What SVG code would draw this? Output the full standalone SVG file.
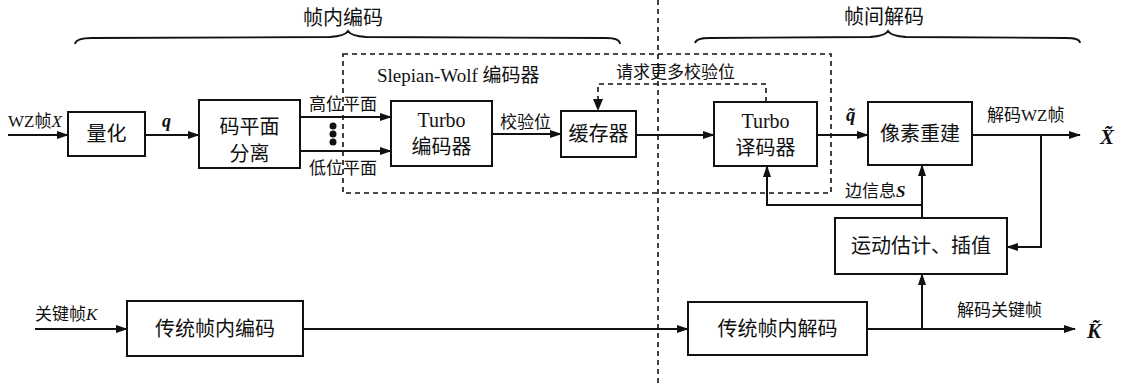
<svg xmlns="http://www.w3.org/2000/svg" width="1127" height="384" viewBox="0 0 1127 384">
<style>
text{font-family:"Liberation Serif","Noto Sans CJK SC",serif;fill:#111}
.box{fill:#fff;stroke:#111;stroke-width:2}
.bt{font-size:20px;text-anchor:middle;dominant-baseline:central}
.lb{font-size:17px}
.tt{font-size:20px;text-anchor:middle}
.ln{fill:none;stroke:#111;stroke-width:2}
.ar{fill:none;stroke:#111;stroke-width:2;marker-end:url(#ah)}
.da{fill:none;stroke:#111;stroke-width:1.6;stroke-dasharray:5 4}
.br{fill:none;stroke:#111;stroke-width:1.8}
.bi{font-weight:bold;font-style:italic}
.it{font-style:italic}
</style>
<defs>
<marker id="ah" markerWidth="12" markerHeight="8" refX="11" refY="4" orient="auto" markerUnits="userSpaceOnUse">
<path d="M0,0 L12,4 L0,8 Z" fill="#111"/>
</marker>
</defs>

<!-- braces and titles -->
<g id="titles">
<path class="br" d="M75,44 Q76,38 92,38 L330,37 Q345,36 348,31 Q351,36 366,37 L606,38 Q620,38 620,44"/>
<text class="tt" x="343" y="25">帧内编码</text>
<path class="br" d="M695,43 Q696,38 710,38 L870,37 Q885,36 888,31 Q891,36 906,37 L1066,38 Q1080,38 1080,43"/>
<text class="tt" x="884" y="24">帧间解码</text>
</g>

<!-- divider and Slepian-Wolf dashed region -->
<g id="regions">
<line class="da" x1="658" y1="0" x2="658" y2="384"/>
<rect class="da" x="343" y="54" width="488" height="139"/>
<text x="377" y="82" style="font-size:19px">Slepian-Wolf 编码器</text>
</g>

<g id="connectors">
<path class="ar" d="M8,135 L68,135"/>
<path class="ar" d="M145,135 L199,135"/>
<path class="ar" d="M300,117 L391,117"/>
<path class="ar" d="M300,151 L391,151"/>
<path class="ar" d="M492,134 L561,134"/>
<path class="da" d="M766,102 L766,84 L598,84 L598,101"/>
<path d="M593,99 L598,111 L603,99 Z" fill="#111"/>
<path class="ar" d="M636,135 L714,135"/>
<path class="ar" d="M817,135 L868,135"/>
<path class="ar" d="M972,135 L1080,135"/>
<path class="ar" d="M1041,135 L1041,247 L1007,247"/>
<path class="ar" d="M922,218 L922,165"/>
<path class="ar" d="M922,205 L767,205 L767,166"/>
<path class="ar" d="M35,329 L127,329"/>
<path class="ar" d="M303,329 L688,329"/>
<path class="ar" d="M867,329 L1075,329"/>
<path class="ar" d="M922,329 L922,274"/>
<circle cx="333" cy="126" r="3.5" fill="#111"/>
<circle cx="333" cy="134" r="3.5" fill="#111"/>
<circle cx="333" cy="142" r="3.5" fill="#111"/>
</g>

<g id="labels">
<text class="lb" x="8" y="127">WZ帧<tspan class="it">X</tspan></text>
<text class="bi" x="162" y="127" style="font-size:18px">q</text>
<text class="lb" x="309" y="110">高位平面</text>
<text class="lb" x="309" y="174">低位平面</text>
<text class="lb" x="500" y="128">校验位</text>
<text class="lb" x="616" y="78">请求更多校验位</text>
<text class="bi" x="846" y="121" style="font-size:19px">q̃</text>
<text class="lb" x="987" y="121">解码WZ帧</text>
<text class="bi" x="1100" y="144" style="font-size:21px">X̃</text>
<text class="lb" x="845" y="197">边信息<tspan class="bi">S</tspan></text>
<text class="lb" x="35" y="320">关键帧<tspan class="it">K</tspan></text>
<text class="lb" x="957" y="316">解码关键帧</text>
<text class="bi" x="1087" y="338" style="font-size:21px">K̃</text>
</g>

<g id="quant"><rect class="box" x="68" y="112" width="77" height="44"/><text class="bt" x="106.5" y="134">量化</text></g>
<g id="bitplane"><rect class="box" x="199" y="100" width="101" height="68"/><text class="bt" x="249.5" y="127">码平面</text><text class="bt" x="249.5" y="154">分离</text></g>
<g id="turboenc"><rect class="box" x="391" y="101" width="101" height="65"/><text class="bt" x="441.5" y="120">Turbo</text><text class="bt" x="441.5" y="147">编码器</text></g>
<g id="buffer"><rect class="box" x="561" y="111" width="75" height="46"/><text class="bt" x="598.5" y="134">缓存器</text></g>
<g id="turbodec"><rect class="box" x="714" y="102" width="103" height="64"/><text class="bt" x="765.5" y="121">Turbo</text><text class="bt" x="765.5" y="148">译码器</text></g>
<g id="recon"><rect class="box" x="868" y="102" width="104" height="63"/><text class="bt" x="920" y="134">像素重建</text></g>
<g id="motion"><rect class="box" x="835" y="218" width="172" height="56"/><text class="bt" x="921" y="246">运动估计、插值</text></g>
<g id="intraenc"><rect class="box" x="127" y="301" width="176" height="55"/><text class="bt" x="215" y="329">传统帧内编码</text></g>
<g id="intradec"><rect class="box" x="688" y="302" width="179" height="53"/><text class="bt" x="777.5" y="329">传统帧内解码</text></g>
</svg>
